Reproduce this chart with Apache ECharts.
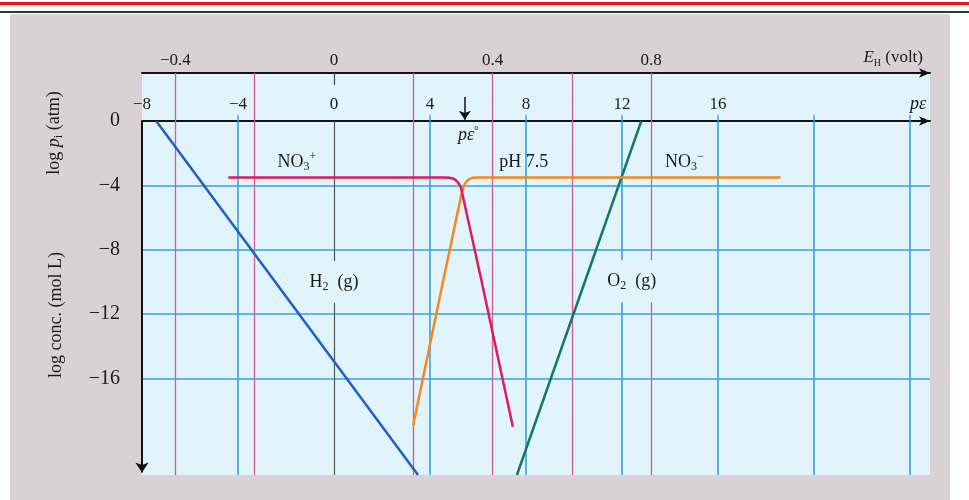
<!DOCTYPE html>
<html><head><meta charset="utf-8">
<script src="https://cdn.jsdelivr.net/npm/echarts@6/dist/echarts.min.js"></script>
<style>
html,body{margin:0;padding:0;background:#fff;}
#wrap{position:relative;width:969px;height:500px;overflow:hidden;background:#fff;}
#page{position:absolute;left:10px;top:14px;width:940px;height:486px;background:#dad1d5;}
#red{position:absolute;left:0;top:2px;width:969px;height:3px;background:#f01414;}
#dark{position:absolute;left:0;top:11px;width:969px;height:2px;background:#2c3a32;}
#chart{position:absolute;left:0;top:0;width:969px;height:500px;}
</style></head>
<body><div id="wrap"><div id="page"></div><div id="red"></div><div id="dark"></div><div id="chart"></div></div>
<script>
// ---- axis ranges / ticks ----
const peRange = [-8, 24.83];
const ehRange = [-0.484, 1.503];
const logRange = [-22, 3];
const peTickLabels = [-8, -4, 0, 4, 8, 12, 16];
const ehTickLabels = [-0.4, 0, 0.4, 0.8];
const logTickLabels = [0, -4, -8, -12, -16];
const peGridLines = [-4, 4, 8, 12, 16, 20, 24];
const ehGridLines = [-0.4, -0.2, 0.2, 0.4, 0.6, 0.8];
const logGridLines = [-4, -8, -12, -16];
// ---- series values [pe, log] ----
const h2Line = [[-7.4, 0], [3.5, -22]];
const o2Line = [[12.8, 0], [7.62, -22]];
const no3PlusLine = [[-4.4, -3.5], [4.6, -3.5], [4.95, -3.56], [5.15, -3.78], [5.3, -4.2], [7.45, -19.0]];
const no3MinusLine = [[3.3, -18.9], [5.3, -4.6], [5.45, -3.9], [5.65, -3.58], [5.95, -3.5], [18.6, -3.5]];
const peStarArrow = [[5.45, 1.5], [5.45, 0.1]];
// ---- annotations ----
const annTexts = ['{t|NO}{sb|3}{sp|+}', '{t|pH 7.5}', '{t|NO}{sb|3}{sp|−}', '{t|H}{sb|2}{t|  (g)}', '{t|O}{sb|2}{t|  (g)}', '{it|pε}{sp|°}'];
const annPe = [-1.55, 7.9, 14.6, 0, 12.4, 5.6];
const annLog = [-2.55, -2.55, -2.55, -10.0, -9.95, -0.9];
const annBoxed = [false, false, false, true, true, false];

const FONT = 'Liberation Serif';
const TXT = '#1a1a1a';
const BG = '#e2f4fb';
const GRID = {left: 142, right: 39, top: 73, bottom: 25};
const minus = v => String(v).replace('-', '−');
const rich = {
  t: {fontFamily: FONT, fontSize: 18, color: TXT, lineHeight: 22},
  it: {fontFamily: FONT, fontSize: 18, color: TXT, lineHeight: 22, fontStyle: 'italic'},
  sb: {fontFamily: FONT, fontSize: 12, color: TXT, lineHeight: 12, verticalAlign: 'bottom'},
  sp: {fontFamily: FONT, fontSize: 12, color: TXT, lineHeight: 12, verticalAlign: 'top'}
};

const chart = echarts.init(document.getElementById('chart'), null, {renderer: 'canvas'});
const seg = (a, b) => ({coords: [a, b]});
// pε axis sits on log = 0: offset inward from the grid top
const plotH = 500 - GRID.top - GRID.bottom;
const peAxisOffset = -Math.round(plotH * logRange[1] / (logRange[1] - logRange[0]));

chart.setOption({
  animation: false,
  backgroundColor: 'transparent',
  grid: Object.assign({show: true, backgroundColor: BG, borderWidth: 0, outerBoundsMode: 'none'}, GRID),
  xAxis: [
    {
      type: 'value', min: peRange[0], max: peRange[1], position: 'top', offset: peAxisOffset,
      axisLine: {onZero: false, symbol: ['none', 'arrow'], symbolSize: [7, 11], lineStyle: {color: '#111', width: 2}},
      axisTick: {show: true, customValues: peGridLines, length: 6, lineStyle: {color: '#3ba3df', width: 1.5}},
      axisLabel: {customValues: peTickLabels, margin: 8, fontFamily: FONT, fontSize: 17, color: TXT, formatter: minus},
      splitLine: {show: false},
      name: 'pε', nameLocation: 'end', nameGap: -4,
      nameTextStyle: {align: 'right', verticalAlign: 'bottom', padding: [0, 0, 8, 0], fontFamily: FONT, fontSize: 18, fontStyle: 'italic', color: TXT}
    },
    {
      type: 'value', min: ehRange[0], max: ehRange[1], position: 'top',
      axisLine: {onZero: false, symbol: ['none', 'arrow'], symbolSize: [7, 11], lineStyle: {color: '#111', width: 2}},
      axisTick: {show: true, customValues: [0], inside: true, length: 12, lineStyle: {color: '#444', width: 1.2}},
      axisLabel: {customValues: ehTickLabels, margin: 4, fontFamily: FONT, fontSize: 17, color: TXT, formatter: minus},
      splitLine: {show: false},
      name: '{b|E}{c|H}{a| (volt)}', nameLocation: 'end', nameGap: -7,
      nameTextStyle: {align: 'right', verticalAlign: 'bottom', padding: [0, 0, 5, 0],
        rich: {
          a: {fontFamily: FONT, fontSize: 17, color: TXT, lineHeight: 20},
          b: {fontFamily: FONT, fontSize: 17, color: TXT, lineHeight: 20, fontStyle: 'italic'},
          c: {fontFamily: FONT, fontSize: 10, color: TXT, lineHeight: 10, verticalAlign: 'bottom'}
        }}
    }
  ],
  yAxis: [
    {
      type: 'value', min: logRange[0], max: logRange[1], position: 'left',
      axisLine: {show: false, onZero: false}, axisTick: {show: false}, splitLine: {show: false},
      axisLabel: {customValues: logTickLabels, margin: 22, fontFamily: FONT, fontSize: 20, color: TXT, formatter: minus},
      name: 'log conc. (mol L)', nameLocation: 'middle', nameRotate: 90, nameGap: 77,
      nameTextStyle: {fontFamily: FONT, fontSize: 18, color: TXT, padding: [0, 82, 0, 0]}
    },
    {
      type: 'value', min: logRange[0], max: logRange[1], position: 'left',
      axisLine: {show: false, onZero: false}, axisTick: {show: false}, splitLine: {show: false}, axisLabel: {show: false},
      name: '{a|log }{b|p}{c|i}{a| (atm)}', nameLocation: 'middle', nameRotate: 90, nameGap: 77,
      nameTextStyle: {padding: [0, 0, 0, 282],
        rich: {
          a: {fontFamily: FONT, fontSize: 18, color: TXT, lineHeight: 22},
          b: {fontFamily: FONT, fontSize: 18, color: TXT, lineHeight: 22, fontStyle: 'italic'},
          c: {fontFamily: FONT, fontSize: 12, color: TXT, lineHeight: 12, verticalAlign: 'bottom'}
        }}
    }
  ],
  series: [
    {type: 'lines', coordinateSystem: 'cartesian2d', xAxisIndex: 1, yAxisIndex: 0, z: 1, silent: true,
      lineStyle: {color: '#d35b8f', width: 1.3, opacity: 1},
      data: ehGridLines.map(v => seg([v, logRange[1]], [v, logRange[0]]))},
    {type: 'lines', coordinateSystem: 'cartesian2d', xAxisIndex: 0, yAxisIndex: 0, z: 1, silent: true,
      lineStyle: {color: '#39a0de', width: 1.6, opacity: 1},
      data: peGridLines.map(v => seg([v, 0], [v, logRange[0]])).concat(logGridLines.map(v => seg([peRange[0], v], [peRange[1], v])))},
    {type: 'lines', coordinateSystem: 'cartesian2d', xAxisIndex: 0, yAxisIndex: 0, z: 1, silent: true,
      lineStyle: {color: '#555', width: 1.2, opacity: 1},
      data: [seg([0, 0], [0, logRange[0]])]},
    {type: 'lines', coordinateSystem: 'cartesian2d', xAxisIndex: 0, yAxisIndex: 0, z: 4, silent: true, clip: false,
      symbol: ['none', 'arrow'], symbolSize: 10,
      lineStyle: {color: '#111', width: 2, opacity: 1},
      data: [seg([peRange[0], 0], [peRange[0], logRange[0] + 0.15])]},
    {type: 'lines', coordinateSystem: 'cartesian2d', xAxisIndex: 0, yAxisIndex: 0, z: 4, silent: true, clip: false,
      symbol: ['none', 'arrow'], symbolSize: 9,
      lineStyle: {color: '#111', width: 1.5, opacity: 1},
      data: [seg(peStarArrow[0], peStarArrow[1])]},
    {name: 'H2', type: 'line', z: 3, data: h2Line, showSymbol: false, symbol: 'none', lineStyle: {color: '#1e5fc8', width: 2.5}},
    {name: 'O2', type: 'line', z: 3, data: o2Line, showSymbol: false, symbol: 'none', lineStyle: {color: '#137a5c', width: 2.5}},
    {name: 'NO3-', type: 'line', z: 3, data: no3MinusLine, smooth: 0.35, showSymbol: false, symbol: 'none', lineStyle: {color: '#f0891e', width: 2.5}},
    {name: 'NO3+', type: 'line', z: 3, data: no3PlusLine, smooth: 0.35, showSymbol: false, symbol: 'none', lineStyle: {color: '#e0195c', width: 2.5}},
    {type: 'scatter', z: 5, symbolSize: 1, itemStyle: {color: 'rgba(0,0,0,0)', opacity: 1}, silent: true,
      data: annTexts.map((t, i) => ({
        value: [annPe[i], annLog[i]],
        label: {show: true, position: 'inside', formatter: t, rich: rich, opacity: 1,
          backgroundColor: annBoxed[i] ? BG : 'transparent', padding: annBoxed[i] ? [10, 4] : 0}
      }))}
  ]
});
</script></body></html>
